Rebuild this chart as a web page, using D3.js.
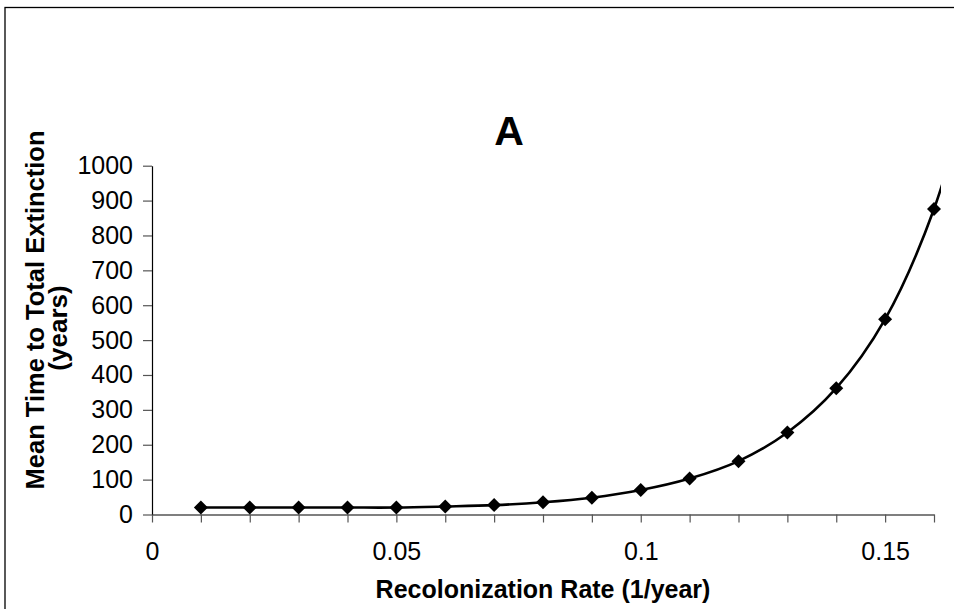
<!DOCTYPE html>
<html><head><meta charset="utf-8">
<script src="https://cdn.jsdelivr.net/npm/d3@7"></script>
<style>
html,body{margin:0;padding:0;background:#fff;}
svg{display:block;font-family:"Liberation Sans",Arial,sans-serif;}
</style></head>
<body>
<svg id="chart" width="954" height="609"></svg>
<script>
// Data
const rates = [0.01,0.02,0.03,0.04,0.05,0.06,0.07,0.08,0.09,0.10,0.11,0.12,0.13,0.14,0.15,0.16,0.17];
const times = [20,20,20,20,20,23,27,35,48,70,103,153,235,362,560,876,1365];
const visibleCount = 16; // markers shown (last point lies outside the cropped picture)
const xTicks = [0,0.01,0.02,0.03,0.04,0.05,0.06,0.07,0.08,0.09,0.10,0.11,0.12,0.13,0.14,0.15,0.16];
const xTickLabels = {"0":"0","0.05":"0.05","0.1":"0.1","0.15":"0.15"};
const yTicks = [0,100,200,300,400,500,600,700,800,900,1000];
const title = "A";
const xTitle = "Recolonization Rate (1/year)";
const yTitleLines = ["Mean Time to Total Extinction","(years)"];

const svg = d3.select("#chart");
const x = d3.scaleLinear().domain([0,0.16]).range([152,934]);
const y = d3.scaleLinear().domain([0,1000]).range([514.5,165.7]);

// outer frame (cropped on right/bottom)
svg.append("rect").attr("x",5).attr("y",7.5).attr("width",1100).attr("height",800)
  .attr("fill","none").attr("stroke","#000").attr("stroke-width",1.3);

// y axis
const yAxis = svg.append("g").attr("transform","translate(152,0)")
  .call(d3.axisLeft(y).tickValues(yTicks).tickSize(9).tickSizeOuter(0).tickPadding(10).tickFormat(d3.format("d")));
yAxis.select(".domain").attr("stroke","#000").attr("stroke-width",1.2);
yAxis.selectAll(".tick line").attr("stroke","#555").attr("stroke-width",1.2);
yAxis.selectAll(".tick text").attr("font-size",25).attr("fill","#000")
  .attr("font-family","Liberation Sans, Arial, sans-serif");

// x axis
const xAxis = svg.append("g").attr("transform","translate(0,514.5)")
  .call(d3.axisBottom(x).tickValues(xTicks).tickSize(8).tickSizeOuter(0).tickPadding(20)
    .tickFormat(d => xTickLabels[String(+d.toFixed(2))] || ""));
xAxis.select(".domain").attr("stroke","#000").attr("stroke-width",1.2);
xAxis.selectAll(".tick line").attr("stroke","#555").attr("stroke-width",1.2);
xAxis.selectAll(".tick text").attr("font-size",25).attr("fill","#000")
  .attr("font-family","Liberation Sans, Arial, sans-serif");

// clip for the line (picture is cropped)
svg.append("clipPath").attr("id","clip").append("rect")
  .attr("x",0).attr("y",0).attr("width",941).attr("height",609);

const pts = rates.map((r,i)=>({r, t: times[i]}));
const line = d3.line().x(d=>x(d.r)).y(d=>y(d.t)).curve(d3.curveCatmullRom.alpha(0.5));
svg.append("path").datum(pts).attr("d",line).attr("fill","none")
  .attr("stroke","#000").attr("stroke-width",2.6).attr("clip-path","url(#clip)");

// diamond markers
const s = 7;
svg.append("g").selectAll("path").data(pts.slice(0,visibleCount)).join("path")
  .attr("transform",d=>`translate(${x(d.r)},${y(d.t)})`)
  .attr("d",`M0,${-s}L${s},0L0,${s}L${-s},0Z`).attr("fill","#000");

// titles
svg.append("text").attr("x",509).attr("y",144.5).attr("text-anchor","middle")
  .attr("font-size",41).attr("font-weight","bold").text(title);
svg.append("text").attr("x",543).attr("y",598).attr("text-anchor","middle")
  .attr("font-size",25).attr("font-weight","bold").text(xTitle);
svg.append("text").attr("transform","translate(44,310) rotate(-90)")
  .attr("text-anchor","middle").attr("font-size",25.5).attr("font-weight","bold")
  .text(yTitleLines[0]);
svg.append("text").attr("transform","translate(67,328) rotate(-90)")
  .attr("text-anchor","middle").attr("font-size",26).attr("font-weight","bold")
  .text(yTitleLines[1]);
</script>
</body></html>
